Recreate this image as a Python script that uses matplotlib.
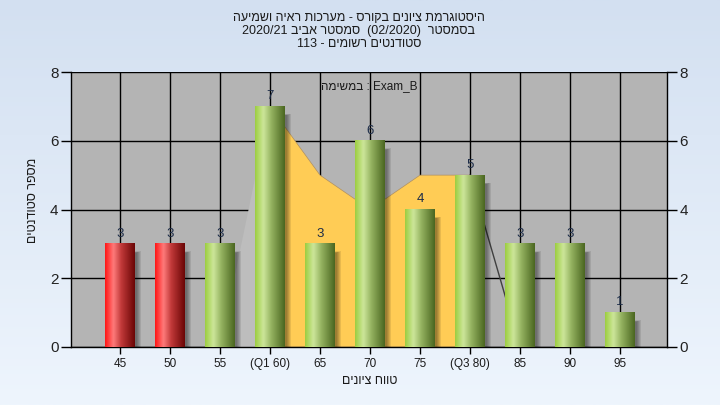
import numpy as np
import matplotlib
matplotlib.use("Agg")
import matplotlib.pyplot as plt
from matplotlib.colors import LinearSegmentedColormap
from matplotlib.patches import Rectangle, Polygon

plt.rcParams['font.family'] = ['Liberation Sans', 'DejaVu Sans']

# ---- data ----
categories = ['45', '50', '55', '(Q1 60)', '65', '70', '75', '(Q3 80)', '85', '90', '95']
counts = [3, 3, 3, 7, 3, 6, 4, 5, 3, 3, 1]
failing = [True, True, False, False, False, False, False, False, False, False, False]
# interquartile area (orange) between Q1 and Q3
iqr_idx = [3, 4, 5, 6, 7]
iqr_vals = [7, 5, 4, 5, 5]
# lower tail area (light) and upper tail edge
low_idx = [2, 3]
low_vals = [0, 7]
up_idx = [7, 8]
up_vals = [5, 0]

# visual-order (RTL already laid out) text
title_lines = ["העימשו היאר תוכרעמ - סרוקב םינויצ תמרגוטסיה",
               "2020/21 ביבא רטסמס  (02/2020)  רטסמסב",
               "113 - םימושר םיטנדוטס"]
assignment_text = "המישמב : Exam_B"
xlabel_text = "םינויצ חווט"
ylabel_text = "םיטנדוטס רפסמ"

fig = plt.figure(figsize=(7.2, 4.05), dpi=100)

# background gradient
bg = fig.add_axes([0, 0, 1, 1], zorder=-10)
grad = np.linspace(0, 1, 256).reshape(-1, 1)
bg_cmap = LinearSegmentedColormap.from_list('bg', ['#d3e0f1', '#eef5fd'])
bg.imshow(grad, aspect='auto', cmap=bg_cmap, extent=(0, 1, 0, 1), origin='upper')
bg.set_axis_off()

ax = fig.add_axes([71/720, 58/405, 596/720, 275/405])
ax.set_facecolor('#b4b4b4')
x = np.arange(len(categories))

# areas
ax.add_patch(Polygon([(low_idx[0], 0)] + list(zip(low_idx, low_vals)) + [(low_idx[-1], 0)],
                     closed=True, facecolor='#bdbdbd', edgecolor='none', zorder=2))
ax.add_patch(Polygon([(iqr_idx[0], 0)] + list(zip(iqr_idx, iqr_vals)) + [(iqr_idx[-1], 0)],
                     closed=True, facecolor='#ffcc55', edgecolor='#b09060', lw=0.5, zorder=2))
ax.plot(up_idx, up_vals, color='#404040', lw=1.0, zorder=2)

green_cmap = LinearSegmentedColormap.from_list(
    'g', [(0, '#9ccd40'), (0.28, '#cde69a'), (0.55, '#94b260'), (1, '#4a6620')])
red_cmap = LinearSegmentedColormap.from_list(
    'r', [(0, '#ff1414'), (0.28, '#ff7b7b'), (0.55, '#c03838'), (1, '#6a0606')])

hgrad = np.linspace(0, 1, 128).reshape(1, -1)
bw = 0.6
for xi, v, f in zip(x, counts, failing):
    # shadow
    for k in range(5):
        ax.add_patch(Rectangle((xi - bw/2 + 0.1, -0.12 + 0.03*k), bw + 0.02 - 0.02*k,
                               v - 0.1 - 0.04*k, facecolor='black', alpha=0.09,
                               edgecolor='none', zorder=3))
    ax.imshow(hgrad, aspect='auto', cmap=red_cmap if f else green_cmap,
              extent=(xi - bw/2, xi + bw/2, 0, v), zorder=4, interpolation='bicubic')
    ax.annotate(str(v), (xi, v), xytext=(0, 3), textcoords='offset points',
                ha='center', va='bottom', fontsize=9.5, color='#1c2c48', zorder=6)

ax.set_xlim(-0.98, 10.94)
ax.set_ylim(0, 8)
ax.set_xticks(x)
ax.set_xticklabels(categories, fontsize=8.5, color='#1a1a1a')
ax.set_yticks([0, 2, 4, 6, 8])
ax.tick_params(axis='y', direction='out', length=7, width=1, labelsize=11,
               labelcolor='#222222', right=True, labelright=True, pad=2)
ax.tick_params(axis='x', direction='out', length=5, width=1, pad=3)
ax.set_axisbelow(True)
ax.grid(True, color='black', lw=1)
for s in ['left', 'right', 'bottom']:
    ax.spines[s].set_color('black')
    ax.spines[s].set_linewidth(1)
ax.spines['top'].set_visible(False)

ax.text(0.5, 0.95, assignment_text, transform=ax.transAxes, ha='center', va='center',
        fontsize=8.5, color='#1a1a1a', zorder=7)

for i, line in enumerate(title_lines):
    fig.text(359/720, 1 - (18 + 13*i)/405, line, ha='center', va='center',
             fontsize=9, color='#1a1a1a')
fig.text(370/720, 1 - 381/405, xlabel_text, ha='center', va='center', fontsize=9,
         color='#1a1a1a')
fig.text(33/720, 1 - 200/405, ylabel_text, ha='center', va='center', fontsize=9,
         rotation=90, color='#1a1a1a')

fig.savefig('out.png', dpi=100)
